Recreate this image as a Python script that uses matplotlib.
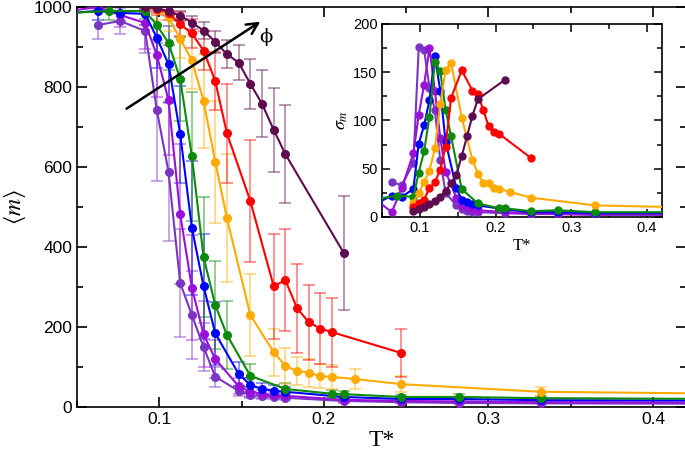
import numpy as np
import matplotlib
matplotlib.use('Agg')
import matplotlib.pyplot as plt
from matplotlib.ticker import MultipleLocator

plt.rcParams['font.family'] = ['Liberation Sans', 'DejaVu Sans']
plt.rcParams['mathtext.fontset'] = 'stix'

# --- data (T*, <m>, sigma_m) ---
t_maroon = [0.0914, 0.0985, 0.1056, 0.1127, 0.1198, 0.1269, 0.134, 0.1411, 0.1482, 0.1553, 0.1624, 0.1695, 0.1766, 0.2121]
m_maroon = [1000, 997, 990, 978, 961, 941, 913, 882, 861, 808, 758, 693, 632, 385]
s_maroon = [6, 8, 10, 13, 17, 21, 27, 35, 44, 63, 84, 105, 122, 142]

t_red = [0.0914, 0.0985, 0.1056, 0.1127, 0.1198, 0.1269, 0.134, 0.1411, 0.1553, 0.1695, 0.1766, 0.1837, 0.1908, 0.1979, 0.205, 0.247]
m_red = [1000, 995, 985, 957, 934, 891, 815, 684, 515, 302, 317, 247, 212, 196, 187, 135]
s_red = [10, 14, 18, 30, 36, 49, 73, 123, 152, 131, 127, 111, 94, 88, 86, 61]

t_orange = [0.0914, 0.0985, 0.1056, 0.1127, 0.1198, 0.1269, 0.134, 0.1411, 0.1553, 0.1695, 0.1766, 0.1837, 0.1908, 0.1979, 0.205, 0.2192, 0.247, 0.332, 0.45]
m_orange = [1000, 993, 975, 920, 867, 765, 613, 472, 230, 137, 103, 90, 86, 77, 75, 70, 57, 38, 33]
s_orange = [15, 25, 36, 48, 71, 117, 152, 160, 103, 59, 45, 35, 35, 30, 29, 26, 20, 12, 10]

t_green = [0.045, 0.0695, 0.0914, 0.0985, 0.1056, 0.1127, 0.1198, 0.1269, 0.134, 0.1411, 0.1553, 0.1766, 0.205, 0.2121, 0.247, 0.282, 0.332, 0.45]
m_green = [985, 990, 990, 955, 910, 820, 627, 375, 255, 180, 78, 45, 33, 32, 25, 25, 22, 20]
s_green = [19, 22, 21, 46, 68, 104, 161, 151, 111, 84, 29, 14, 9, 9, 6, 7, 5, 5]

t_blue = [0.045, 0.0628, 0.0762, 0.0914, 0.0985, 0.1056, 0.1127, 0.1198, 0.1269, 0.134, 0.1482, 0.1553, 0.1624, 0.1695, 0.1766, 0.2121, 0.247, 0.282, 0.332, 0.45]
m_blue = [985, 990, 985, 983, 923, 857, 682, 448, 302, 184, 83, 55, 45, 41, 38, 25, 20, 20, 17, 16]
s_blue = [15, 22, 21, 29, 76, 95, 121, 167, 131, 78, 30, 18, 16, 13, 12, 8, 5, 5, 4, 4]

t_violet = [0.045, 0.0628, 0.0762, 0.0914, 0.0985, 0.1056, 0.1127, 0.1198, 0.1269, 0.134, 0.1482, 0.1553, 0.1624, 0.1695, 0.1766, 0.2121, 0.247, 0.282, 0.332, 0.45]
m_violet = [990, 1000, 980, 960, 880, 767, 482, 298, 182, 120, 52, 38, 33, 30, 28, 18, 15, 14, 12, 11]
s_violet = [16, 5, 30, 66, 106, 137, 175, 131, 82, 47, 20, 12, 10, 8, 7, 5, 4, 3, 3, 3]

t_purple = [0.0628, 0.0762, 0.0914, 0.0985, 0.1056, 0.1127, 0.1198, 0.1269, 0.134, 0.1482, 0.1553, 0.1624, 0.1695, 0.1766, 0.2121, 0.247, 0.282, 0.332, 0.45]
m_purple = [955, 965, 940, 742, 588, 310, 230, 150, 76, 40, 30, 27, 25, 23, 15, 12, 10, 9, 8]
s_purple = [36, 33, 56, 176, 173, 134, 111, 59, 25, 12, 8, 6, 5, 5, 4, 3, 3, 2, 2]

series = [
    (t_purple, m_purple, s_purple, '#7b35c4'),
    (t_violet, m_violet, s_violet, '#9a10d8'),
    (t_blue, m_blue, s_blue, '#0000ff'),
    (t_green, m_green, s_green, '#0b8a0b'),
    (t_orange, m_orange, s_orange, '#ffaa00'),
    (t_red, m_red, s_red, '#ff0000'),
    (t_maroon, m_maroon, s_maroon, '#5e0b50'),
]

fig = plt.figure(figsize=(6.85, 4.5), dpi=100)
ax = fig.add_axes([0.1124, 0.0956, 0.8890, 0.8889])

for t, m, s, c in series:
    ax.errorbar(t, m, yerr=s, fmt='none', ecolor=c, alpha=0.5, elinewidth=1.2,
                capsize=4, capthick=1.2, zorder=2)
    ax.plot(t, m, '-o', color=c, lw=1.5, ms=5.5, zorder=3)

ax.set_xlim(0.05, 0.42)
ax.set_ylim(0, 1000)
ax.xaxis.set_major_locator(MultipleLocator(0.1))
ax.xaxis.set_minor_locator(MultipleLocator(0.05))
ax.yaxis.set_major_locator(MultipleLocator(200))
ax.yaxis.set_minor_locator(MultipleLocator(100))
ax.tick_params(which='both', direction='in', top=True, right=True, labelsize=12.5, width=1.2)
ax.tick_params(which='major', length=7)
ax.tick_params(which='minor', length=4)
for sp in ax.spines.values():
    sp.set_linewidth(1.2)
ax.set_xticklabels(['', '0.1', '0.2', '0.3', '0.4'][:len(ax.get_xticks())]) if False else None
ax.set_xlabel('T*', family=['Liberation Serif', 'DejaVu Serif'], fontsize=17, labelpad=2)
ax.set_ylabel(r'$\langle m\rangle$', fontsize=17, labelpad=4)

ax.annotate('', xy=(0.1628, 967), xytext=(0.0787, 742),
            arrowprops=dict(arrowstyle='->', color='black', lw=1.8, mutation_scale=20), zorder=5)
ax.text(0.1605, 912, 'ϕ', family=['DejaVu Serif'], fontsize=14, zorder=5)

# inset with sigma_m
ins = fig.add_axes([0.5577, 0.5178, 0.4088, 0.4289])
for t, m, s, c in series:
    ins.plot(t, s, '-o', color=c, lw=1.5, ms=5, zorder=3)
ins.set_xlim(0.05, 0.42)
ins.set_ylim(0, 200)
ins.xaxis.set_major_locator(MultipleLocator(0.1))
ins.xaxis.set_minor_locator(MultipleLocator(0.05))
ins.yaxis.set_major_locator(MultipleLocator(50))
ins.yaxis.set_minor_locator(MultipleLocator(25))
ins.tick_params(which='both', direction='in', top=True, right=True, labelsize=10.5, width=1.1, pad=3)
ins.tick_params(which='major', length=6)
ins.tick_params(which='minor', length=3.5)
for sp in ins.spines.values():
    sp.set_linewidth(1.2)
ins.set_xlabel('T*', family=['Liberation Serif', 'DejaVu Serif'], fontsize=12, labelpad=2)
ins.set_ylabel(r'$\sigma_m$', fontsize=13, labelpad=2)

fig.savefig('out.png', dpi=100)
